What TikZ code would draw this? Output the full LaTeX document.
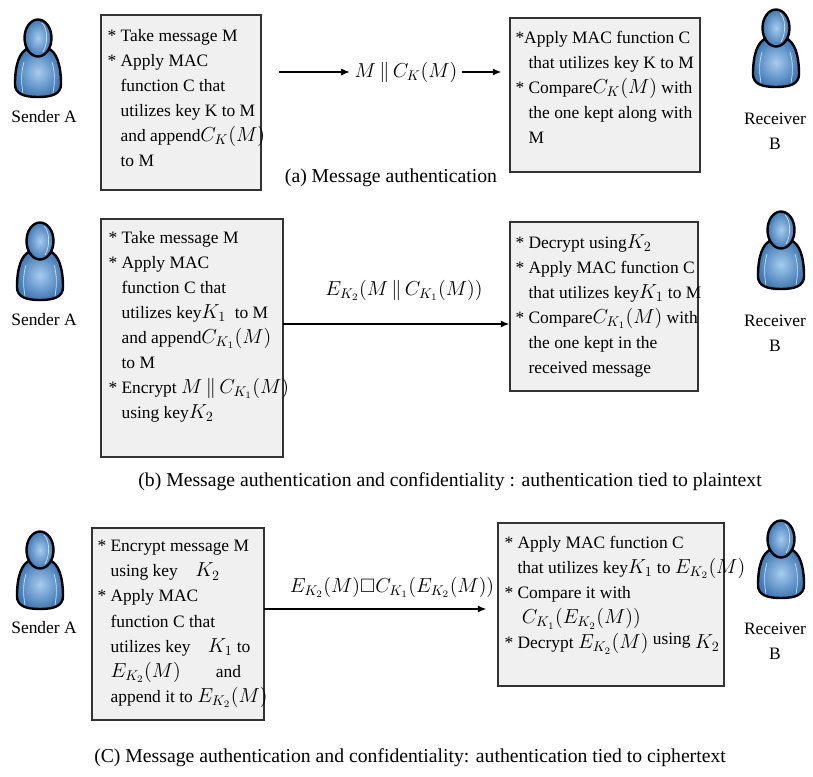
\documentclass[tikz,border=0pt]{standalone}
\usepackage{fontspec}
\usepackage{amssymb}
\setmainfont{Liberation Serif}
\usetikzlibrary{arrows.meta}
\definecolor{manlight}{HTML}{A8CCEE}
\definecolor{mandark}{HTML}{3F79B6}
\newcommand{\px}{0.025cm}
\newcommand{\boxfont}{\fontsize{12.4}{17.8}\selectfont}
\newcommand{\capfont}{\fontsize{14}{17}\selectfont}
\newcommand{\ind}{\hphantom{*}\ }
\newcommand{\mt}[1]{{\fontsize{13.6}{17.8}\selectfont$#1$}}

\tikzset{
  frame/.style={draw=black!80, fill=black!6, line width=1.1pt},
  note/.style={align=left, inner sep=0pt, anchor=north west, font=\boxfont},
  lbl/.style={font=\fontsize{13.8}{17}\selectfont},
  arr/.style={-{Latex[length=6pt,width=5pt]}, line width=0.8pt},
  who/.style={align=center, font=\boxfont},
  caption/.style={font=\capfont},
  person/.pic={
    % body
    \shadedraw[inner color=manlight, outer color=mandark, line width=1.7pt]
      (-9,10) .. controls (-19,13) and (-23,28) .. (-23,46)
      .. controls (-23,56) and (-14,59) .. (0,59)
      .. controls (14,59) and (23,56) .. (23,46)
      .. controls (23,28) and (19,13) .. (9,10) -- cycle;
    \draw[manlight!60!white, line width=0.5pt] (-14,24) .. controls (-17,34) and (-17,44) .. (-15,55);
    \draw[manlight!60!white, line width=0.5pt] (14,24) .. controls (17,34) and (17,44) .. (15,55);
    % head
    \shadedraw[inner color=manlight, outer color=mandark, line width=1.7pt]
      (0,0) ellipse [x radius=13.5, y radius=18.5];
    \draw[manlight!60!white, line width=0.5pt] (4,-15) .. controls (10,-10) and (10,6) .. (5,14);
  }
}

\begin{document}
\begin{tikzpicture}[x=0.025cm, y=-0.025cm]
  \useasboundingbox (0,0) rectangle (813,776);

  %%%%% (a) %%%%%
  \pic at (38,38) {person};
  \node[who] (sendA) at (44,117) {Sender A};
  \pic at (776,28) {person};
  \node[who] (recvA) at (775,131) {Receiver\\B};

  \node[frame, minimum width=160*\px, minimum height=175*\px] (boxA1) at (181,102.5) {};
  \node[note] (txtA1) at ([shift={(7,15)}]boxA1.north west) {%
    * Take message M\\
    * Apply MAC\\
    \ind function C that\\
    \ind utilizes key K to M\\
    \ind and append\mt{C_K(M)}\\
    \ind to M};
  \node[frame, minimum width=190*\px, minimum height=154*\px] (boxA2) at (605,95) {};
  \node[note] (txtA2) at ([shift={(6,14)}]boxA2.north west) {%
    *Apply MAC function C\\
    \ind that utilizes key K to M\\
    * Compare\mt{C_K(M)} with\\
    \ind the one kept along with\\
    \ind M};

  \node[lbl] (lblA) at (406,72) {$M\,\|\,C_K(M)$};
  \draw[arr, shorten <=17*\px] (boxA1.east |- lblA) -- (lblA.west);
  \draw[arr, shorten >=8*\px] (lblA.east) -- (lblA -| boxA2.west);
  \node[caption] (capA) at (391,178) {(a) Message authentication};

  %%%%% (b) %%%%%
  \pic at (40,241) {person};
  \node[who] (sendB) at (44,320) {Sender A};
  \pic at (781,230) {person};
  \node[who] (recvB) at (775,333) {Receiver\\B};

  \node[frame, minimum width=182*\px, minimum height=238*\px] (boxB1) at (192,338) {};
  \node[note] (txtB1) at ([shift={(8,13)}]boxB1.north west) {%
    * Take message M\\
    * Apply MAC\\
    \ind function C that\\
    \ind utilizes key\mt{K_1}\ \ to M\\
    \ind and append\mt{C_{K_1}(M)}\\
    \ind to M\\
    * Encrypt \mt{M\,\|\,C_{K_1}(M)}\\
    \ind using key\mt{K_2}};
  \node[frame, minimum width=188*\px, minimum height=169*\px] (boxB2) at (604,306.5) {};
  \node[note] (txtB2) at ([shift={(6,13)}]boxB2.north west) {%
    * Decrypt using\mt{K_2}\\
    * Apply MAC function C\\
    \ind that utilizes key\mt{K_1} to M\\
    * Compare\mt{C_{K_1}(M)} with\\
    \ind the one kept in the\\
    \ind received message};

  \coordinate (outB) at (283,324);
  \draw[arr] (outB) -- (outB -| boxB2.west);
  \node[lbl] (lblB) at (404,290) {$E_{K_2}(M\,\|\,C_{K_1}(M))$};
  \node[caption] (capB) at (450,482) {(b) Message authentication and confidentiality : authentication tied to plaintext};

  %%%%% (c) %%%%%
  \pic at (40,550) {person};
  \node[who] (sendC) at (44,628) {Sender A};
  \pic at (781,539) {person};
  \node[who] (recvC) at (775,641) {Receiver\\B};

  \node[frame, minimum width=172*\px, minimum height=192*\px] (boxC1) at (178,624) {};
  \node[note] (txtC1) at ([shift={(6,13)}]boxC1.north west) {%
    * Encrypt message M\\
    \ind using key\quad\mt{K_2}\\
    * Apply MAC\\
    \ind function C that\\
    \ind utilizes key\quad\mt{K_1} to\\
    \ind\mt{E_{K_2}(M)}\qquad and\\
    \ind append it to \mt{E_{K_2}(M)}};
  \node[frame, minimum width=226*\px, minimum height=163*\px] (boxC2) at (611,604.5) {};
  \node[note] (txtC2) at ([shift={(7,14)}]boxC2.north west) {%
    * Apply MAC function C\\
    \ind that utilizes key\mt{K_1} to \mt{E_{K_2}(M)}\\
    * Compare it with\\
    \ind\ \mt{C_{K_1}(E_{K_2}(M))}\\
    * Decrypt \mt{E_{K_2}(M)} \raisebox{3pt}{using} \mt{K_2}};

  \coordinate (outC) at (264,609);
  \draw[arr, shorten >=11*\px] (outC) -- (outC -| boxC2.west);
  \node[lbl] (lblC) at (392,587) {$E_{K_2}(M)\square C_{K_1}(E_{K_2}(M))$};
  \node[caption] (capC) at (410,758) {(C) Message authentication and confidentiality: authentication tied to ciphertext};
\end{tikzpicture}
\end{document}
